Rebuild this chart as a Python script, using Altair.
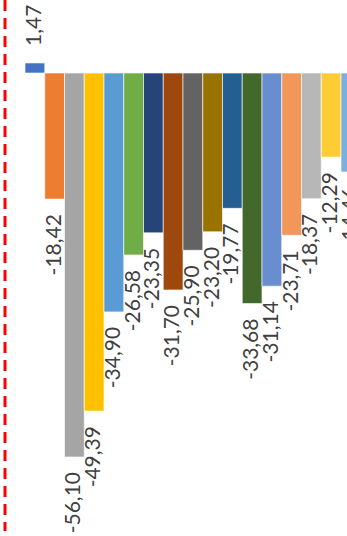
import altair as alt
import pandas as pd

categories = [f"C{i}" for i in range(1, 18)]
values = [1.47, -18.42, -56.10, -49.39, -34.90, -26.58, -23.35, -31.70, -25.90,
          -23.20, -19.77, -33.68, -31.14, -23.71, -18.37, -12.29, -14.46]
labels = ["1,47", "-18,42", "-56,10", "-49,39", "-34,90", "-26,58", "-23,35", "-31,70",
          "-25,90", "-23,20", "-19,77", "-33,68", "-31,14", "-23,71", "-18,37", "-12,29", "-14,46"]
colors = ["#4472C4", "#ED7D31", "#A5A5A5", "#FFC000", "#5B9BD5", "#70AD47", "#264478",
          "#9E480E", "#636363", "#997300", "#255E91", "#43682B", "#698ED0", "#F1975A",
          "#B7B7B7", "#FFCD33", "#7CAFDD"]

df = pd.DataFrame({"cat": categories, "value": values, "label": labels})

W, H = 347, 536
k = 384 / 56.10
ydom = [-(H - 73) / k, 73 / k]

x = alt.X("cat:N", sort=categories, axis=None,
          scale=alt.Scale(range=[25, 360.75], paddingInner=0, paddingOuter=0))
y = alt.Y("value:Q", axis=None, scale=alt.Scale(domain=ydom, nice=False, zero=False))

base = alt.Chart(df)

bars = base.mark_bar(stroke="#FFFFFF", strokeWidth=1, strokeOpacity=0.6).encode(
    x=x, y=y, y2=alt.datum(0),
    color=alt.Color("cat:N", sort=categories, legend=None,
                    scale=alt.Scale(domain=categories, range=colors)),
)

text_style = dict(font="Lato", fontSize=21, color="#404040", angle=270, baseline="middle")

neg_text = base.transform_filter(alt.datum.value < 0).mark_text(
    align="right", dx=-15, **text_style
).encode(x=x, y=y, text="label:N")

pos_text = base.transform_filter(alt.datum.value >= 0).mark_text(
    align="left", dx=17, **text_style
).encode(x=x, y=y, text="label:N")

red_line = alt.Chart(pd.DataFrame({"v": [0]})).mark_rule(
    color="#FF0000", strokeWidth=3, strokeDash=[11, 7]
).encode(x=alt.value(5), y=alt.value(0), y2=alt.value(531))

chart = alt.layer(bars, neg_text, pos_text, red_line).properties(
    width=W, height=H, padding=0, autosize=alt.AutoSizeParams(type="none")
).configure_view(stroke=None)

chart.save("out.html", embed_options={"renderer": "svg", "actions": False})
